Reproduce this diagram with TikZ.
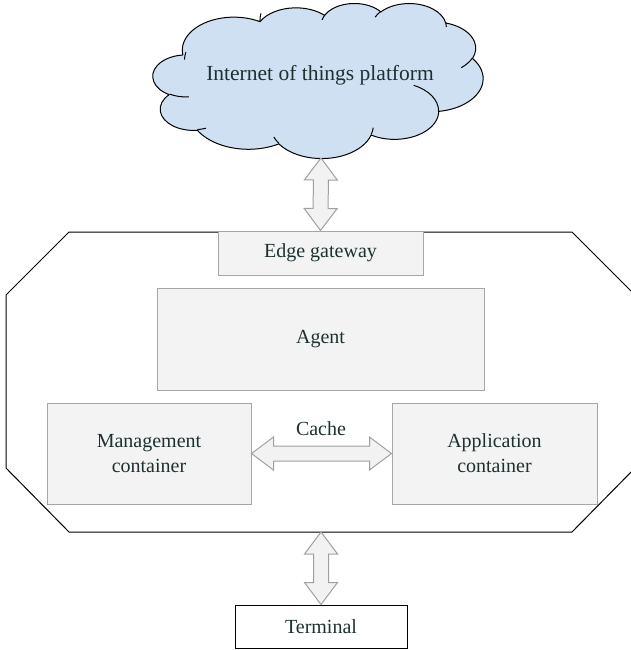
\documentclass[tikz,border=0pt]{standalone}
\usepackage{fontspec}
\setmainfont{Liberation Serif}
\usetikzlibrary{calc}
\definecolor{txt}{RGB}{30,48,48}
\definecolor{boxfill}{RGB}{243,243,243}
\definecolor{boxline}{RGB}{166,166,166}
\definecolor{cloudfill}{RGB}{207,224,243}
\definecolor{arrfill}{RGB}{242,242,242}
\definecolor{arrline}{RGB}{160,160,160}
\newcommand{\ahl}{22pt}
\newcommand{\ahw}{16.5pt}
\newcommand{\asw}{7.5pt}
\newcommand{\fatdbl}[2]{%
\draw[fatarrow] (#1)
 -- ($(#1)!\ahl!(#2)!\ahw!90:(#2)$)
 -- ($(#1)!\ahl!(#2)!\asw!90:(#2)$)
 -- ($(#2)!\ahl!(#1)!\asw!-90:(#1)$)
 -- ($(#2)!\ahl!(#1)!\ahw!-90:(#1)$)
 -- (#2)
 -- ($(#2)!\ahl!(#1)!\ahw!90:(#1)$)
 -- ($(#2)!\ahl!(#1)!\asw!90:(#1)$)
 -- ($(#1)!\ahl!(#2)!\asw!-90:(#2)$)
 -- ($(#1)!\ahl!(#2)!\ahw!-90:(#2)$)
 -- cycle;}
% elliptic arc given with visual angles (DrawingML arcTo)
\newcommand{\carc}[4]{arc[x radius=#1, y radius=#2,
  start angle={atan2(#1*sin(#3), #2*cos(#3))},
  delta angle={Mod(atan2(#1*sin(#3+#4), #2*cos(#3+#4)) - atan2(#1*sin(#3), #2*cos(#3)), 360)}]}
\tikzset{
  graybox/.style={draw=boxline, fill=boxfill, line width=1pt, inner sep=0pt,
    text=txt, align=center, font=\fontsize{20}{25}\selectfont},
  fatarrow/.style={draw=arrline, fill=arrfill, line width=1pt, line join=miter},
  lbl/.style={text=txt, font=\fontsize{20}{25}\selectfont},
}
\begin{document}
\begin{tikzpicture}[x=1pt,y=-1pt]
\useasboundingbox (0,0) rectangle (630,650);
% cloud outline
\begin{scope}[shift={(153,3)}, x=0.763889pt, y=-0.358796pt, line width=1pt, line join=round]
\draw[fill=cloudfill] (39.00,143.70)
  \carc{67.53}{91.90}{-190.48748}{123.78053}
  \carc{53.33}{72.67}{-144.10238}{89.94523}
  \carc{43.65}{59.45}{-145.80792}{99.72302}
  \carc{48.57}{65.95}{-130.98607}{117.24173}
  \carc{53.33}{72.73}{-78.70888}{109.02692}
  \carc{67.75}{92.20}{-46.26725}{130.26900}
  \carc{57.85}{78.67}{0.62502}{114.03333}
  \carc{67.52}{92.15}{22.45160}{115.17255}
  \carc{77.20}{105.43}{66.24263}{75.71102}
  \carc{43.60}{59.18}{-274.94208}{146.73557}
  \carc{43.45}{59.45}{-246.82850}{152.51885}
  -- cycle;
\draw (46.93,261.77) \carc{43.45}{59.45}{86.7420}{26.4295}
  (69.28,348.99) \carc{43.60}{59.18}{73.6105}{11.4475}
  (164.78,390.90) \carc{67.52}{92.15}{137.6242}{14.0811}
  (288.27,347.51) \carc{67.52}{92.15}{6.4533}{15.9984}
  (341.29,229.54) \carc{57.85}{78.67}{-70.2924}{70.9174}
  (417.98,153.54) \carc{53.33}{72.73}{30.3180}{27.7515}
  (383.24,54.26) \carc{48.57}{65.95}{-13.7443}{14.8589}
  (290.78,39.52) \carc{48.57}{65.95}{-149.1815}{18.1954}
  (221.41,47.20) \carc{43.65}{59.45}{-163.4943}{17.6864}
  (140.00,51.92) \carc{67.53}{91.90}{-183.4029}{19.5138}
  (41.27,157.89) \carc{67.53}{91.90}{180}{17.7769};
\end{scope}
\node[text=txt, font=\fontsize{21.5}{26}\selectfont] (cloud) at (320,75) {Internet of things platform};
\coordinate (cb) at (321,158);
% octagon
\draw[black, line width=1pt]
  (69,232) coordinate (o1) -- (572,232) -- (635,295) -- (635,468) -- (572,532)
  -- (321,532) coordinate (ob) -- (69,532) -- (6,468) -- (6,295) -- cycle;
% boxes
\node[graybox, minimum width=205pt, minimum height=44pt] (gw) at (320.5,253) {Edge gateway};
\node[graybox, minimum width=327pt, minimum height=102pt] (agent) at (320.5,339) {Agent};
\node[graybox, minimum width=204pt, minimum height=101pt] (mgmt) at (149,453.5) {Management\\container};
\node[graybox, minimum width=205pt, minimum height=101pt] (app) at (494.5,453.5) {Application\\container};
\node[draw=black, fill=white, line width=1pt, minimum width=172pt, minimum height=43pt,
  inner sep=0pt, text=txt, font=\fontsize{20}{25}\selectfont] (term) at (321,626.5) {Terminal};
\node[lbl, anchor=base] (cache) at (321,435) {Cache};
% arrows
\fatdbl{cb}{gw.north}
\fatdbl{mgmt.east}{app.west}
\fatdbl{ob}{term.north}
\end{tikzpicture}
\end{document}
